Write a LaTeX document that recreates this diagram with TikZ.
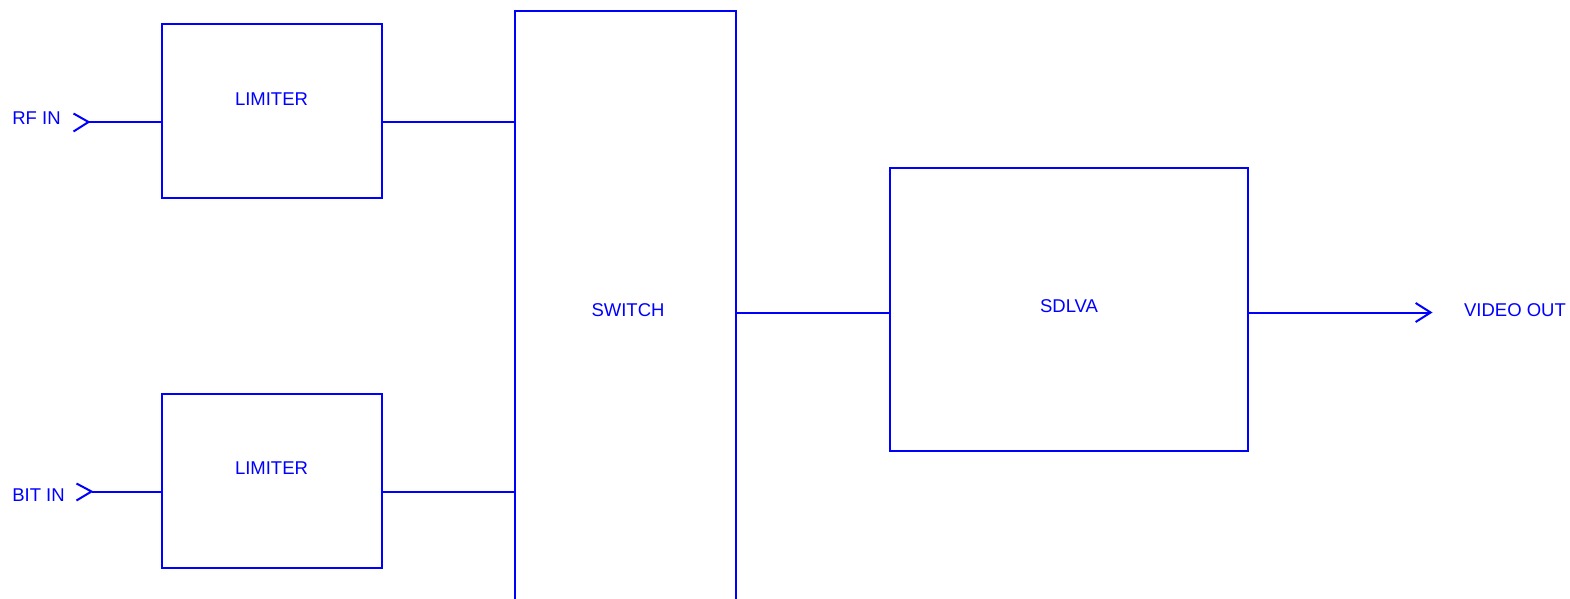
\documentclass[tikz,border=0pt]{standalone}
\usepackage{fontspec}
\setmainfont{Liberation Sans}
\usetikzlibrary{arrows.meta}
\definecolor{diagblue}{RGB}{0,0,255}
\tikzset{
  blockbox/.style={draw=diagblue, line width=2pt, rectangle, inner sep=0pt},
  blocklabel/.style={text=diagblue, inner sep=0pt, font=\fontsize{18.5}{21}\selectfont},
  wire/.style={draw=diagblue, line width=2pt},
}
\begin{document}
\begin{tikzpicture}[x=1pt,y=-1pt]
\clip (0,0) rectangle (1570,599);
% blocks
\node[blockbox, minimum width=220pt, minimum height=173pt] (lim1) at (271.5,111) {};
\node[blockbox, minimum width=220pt, minimum height=174pt] (lim2) at (271.5,480.5) {};
\node[blockbox, minimum width=221pt, minimum height=689pt] (sw) at (625,356) {};
\node[blockbox, minimum width=358pt, minimum height=283pt] (sd) at (1068.5,309) {};
% labels
\node[blocklabel] (lim1t) at (271.5,99.5) {LIMITER};
\node[blocklabel] (lim2t) at (271.5,468.5) {LIMITER};
\node[blocklabel] (swt) at (628,310.5) {SWITCH};
\node[blocklabel] (sdt) at (1069,306.5) {SDLVA};
\node[blocklabel] (rfin) at (36.5,118.5) {RF IN};
\node[blocklabel] (bitin) at (38.5,495.5) {BIT IN};
\node[blocklabel] (vout) at (1515,310.5) {VIDEO OUT};
% connector points
\coordinate (rf) at (88.5,122);
\coordinate (bit) at (91.5,491.5);
\coordinate (vo) at (1432.5,312.5);
% input chevrons
\draw[wire] ([shift={(-15,-8.5)}]rf) -- (rf) -- ([shift={(-15,9.5)}]rf);
\draw[wire] ([shift={(-15,-8)}]bit) -- (bit) -- ([shift={(-15,9)}]bit);
% connectors
\draw[wire] (rf) -- (lim1.west |- rf);
\draw[wire] (bit) -- (lim2.west |- bit);
\draw[wire] (lim1.east |- rf) -- (sw.west |- rf);
\draw[wire] (lim2.east |- bit) -- (sw.west |- bit);
\draw[wire] (sw.east |- vo) -- (sd.west |- vo);
\draw[wire, -{Straight Barb[length=15pt,width=19pt,line width=2pt]}] (sd.east |- vo) -- (vo);
\end{tikzpicture}
\end{document}
